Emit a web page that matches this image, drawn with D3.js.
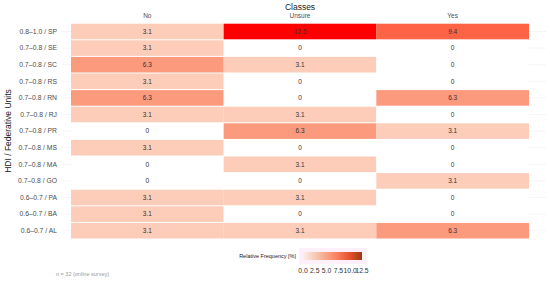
<!DOCTYPE html>
<html>
<head>
<meta charset="utf-8">
<script src="https://cdn.jsdelivr.net/npm/d3@7"></script>
<style>
  body { margin: 0; background: #fff; }
  text { font-family: "Liberation Sans", Arial, sans-serif; }
</style>
</head>
<body>
<div id="myChart"></div>
<script>
// data
const units = ["0.8–1.0 / SP", "0.7–0.8 / SE", "0.7–0.8 / SC", "0.7–0.8 / RS", "0.7–0.8 / RN",
  "0.7–0.8 / RJ", "0.7–0.8 / PR", "0.7–0.8 / MS", "0.7–0.8 / MA", "0.7–0.8 / GO",
  "0.6–0.7 / PA", "0.6–0.7 / BA", "0.6–0.7 / AL"];
const classes = ["No", "Unsure", "Yes"];
const noValues     = [3.1, 3.1, 6.3, 3.1, 6.3, 3.1, 0, 3.1, 0, 0, 3.1, 3.1, 3.1];
const unsureValues = [12.5, 0, 3.1, 0, 0, 3.1, 6.3, 0, 3.1, 0, 3.1, 0, 3.1];
const yesValues    = [9.4, 0, 0, 0, 6.3, 0, 3.1, 0, 0, 3.1, 0, 0, 6.3];
const legendTicks = [0, 2.5, 5, 7.5, 10, 12.5];

const cells = [];
[noValues, unsureValues, yesValues].forEach(function(vals, j) {
  vals.forEach(function(v, i) { cells.push({unit: units[i], cls: classes[j], value: v}); });
});

const W = 550, H = 283;
const svg = d3.select("#myChart").append("svg")
  .attr("width", W).attr("height", H);

const x = d3.scaleBand().domain(classes).range([71, 529]).padding(0);
const y = d3.scaleBand().domain(units).range([23.2, 239]).paddingInner(0.06).paddingOuter(0.03);

const color = d3.scaleLinear()
  .domain([0, 3.125, 6.25, 9.375, 12.5])
  .range(["#ffffff", "#fdcdb9", "#fc9b7f", "#fe6446", "#ff0000"]);

// grid lines
svg.append("g").selectAll("line")
  .data(units)
  .join("line")
    .attr("x1", 62).attr("x2", 546)
    .attr("y1", d => y(d) + y.bandwidth() / 2)
    .attr("y2", d => y(d) + y.bandwidth() / 2)
    .attr("stroke", "#ebebeb").attr("stroke-width", 0.5);

// tiles
svg.append("g").selectAll("rect")
  .data(cells)
  .join("rect")
    .attr("x", d => x(d.cls))
    .attr("y", d => y(d.unit))
    .attr("width", x.bandwidth())
    .attr("height", y.bandwidth())
    .attr("fill", d => color(d.value));

// cell labels
svg.append("g").selectAll("text")
  .data(cells)
  .join("text")
    .attr("x", d => x(d.cls) + x.bandwidth() / 2)
    .attr("y", d => y(d.unit) + y.bandwidth() / 2)
    .attr("dy", "0.35em")
    .attr("text-anchor", "middle")
    .style("font-size", "6.5px")
    .style("fill", "#333")
    .text(d => d.value === 0 ? "0" : d3.format(".1f")(d.value));

// y axis labels
svg.append("g").selectAll("text")
  .data(units)
  .join("text")
    .attr("x", 57)
    .attr("y", d => y(d) + y.bandwidth() / 2)
    .attr("dy", "0.35em")
    .attr("text-anchor", "end")
    .style("font-size", "6.8px")
    .style("fill", "#4d4d4d")
    .text(d => d);

// column labels (top)
svg.append("g").selectAll("text")
  .data(classes)
  .join("text")
    .attr("x", d => x(d) + x.bandwidth() / 2)
    .attr("y", 18)
    .attr("text-anchor", "middle")
    .style("font-size", "6.5px")
    .style("fill", "#4d4d4d")
    .text(d => d);

svg.append("text")
  .attr("x", 300).attr("y", 10)
  .attr("text-anchor", "middle")
  .style("font-size", "8.5px")
  .style("fill", "#222")
  .text("Classes");

svg.append("text")
  .attr("transform", "translate(11," + 131 + ") rotate(-90)")
  .attr("text-anchor", "middle")
  .style("font-size", "8.5px")
  .style("fill", "#222")
  .text("HDI / Federative Units");

// legend
const lx = d3.scaleLinear().domain([0, 12.5]).range([303, 362]);
const defs = svg.append("defs");
const grad = defs.append("linearGradient").attr("id", "lg");
[["0%", "#fbeee6"], ["30%", "#f8b79c"], ["60%", "#fb7a5a"], ["80%", "#e2512e"], ["100%", "#9a3a12"]]
  .forEach(s => grad.append("stop").attr("offset", s[0]).attr("stop-color", s[1]));

svg.append("rect")
  .attr("x", 299).attr("y", 248).attr("width", 68).attr("height", 16)
  .attr("fill", "#fdf0fb");
svg.append("rect")
  .attr("x", lx(0)).attr("y", 252)
  .attr("width", lx(12.5) - lx(0)).attr("height", 8)
  .attr("fill", "url(#lg)");

svg.append("g").selectAll("text")
  .data(legendTicks)
  .join("text")
    .attr("x", d => lx(d))
    .attr("y", 273)
    .attr("text-anchor", "middle")
    .style("font-size", "6.8px")
    .style("fill", "#333")
    .text(d => d3.format(".1f")(d));

svg.append("text")
  .attr("x", 296).attr("y", 258)
  .attr("text-anchor", "end")
  .style("font-size", "5.5px")
  .style("fill", "#222")
  .text("Relative Frequency [%]");

svg.append("text")
  .attr("x", 56).attr("y", 276)
  .style("font-size", "5.5px")
  .style("fill", "#999")
  .text("n = 32 (online survey)");
</script>
</body>
</html>
